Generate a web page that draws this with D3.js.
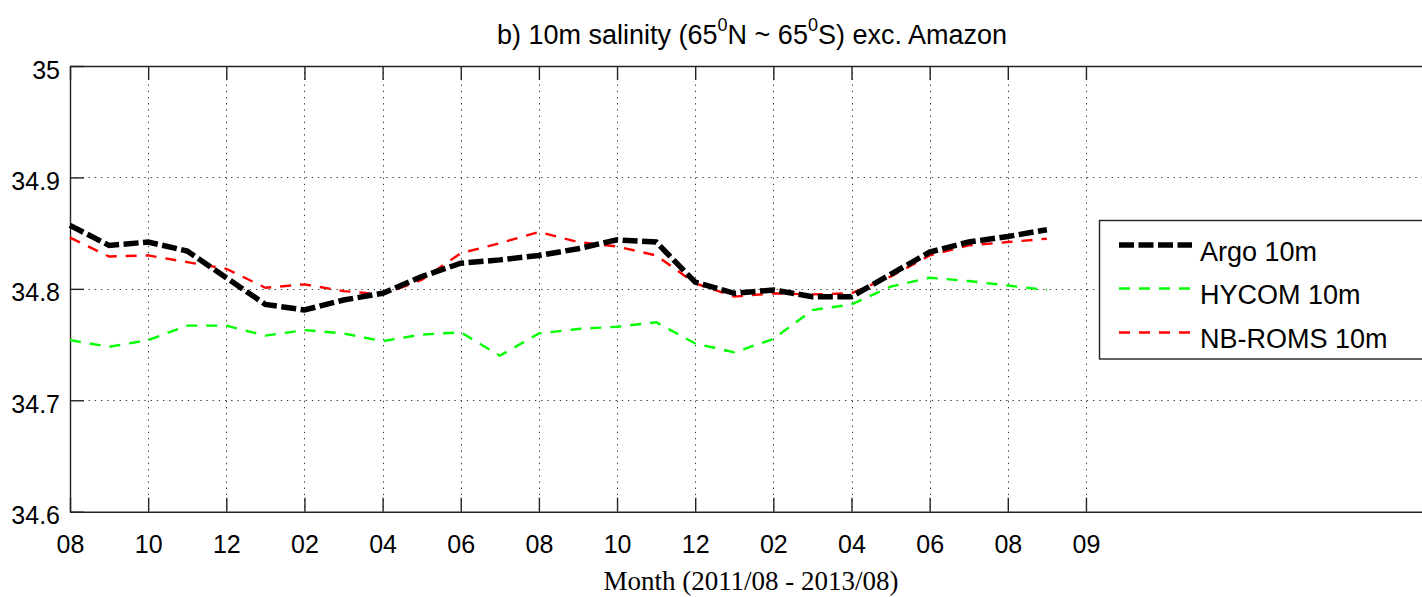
<!DOCTYPE html>
<html>
<head>
<meta charset="utf-8">
<script src="https://cdn.jsdelivr.net/npm/d3@7"></script>
<style>
  html, body { margin: 0; padding: 0; background: #fff; overflow: hidden; }
  svg { display: block; }
  text { font-family: "Liberation Sans", Arial, Helvetica, sans-serif; fill: #000; }
</style>
</head>
<body>
<svg id="chart" width="1422" height="597"></svg>
<script>
// ---- data (month index 0 = 2011/08) ----
const monthIndex = d3.range(26);
const argo   = [34.857, 34.839, 34.842, 34.834, 34.810, 34.786, 34.781, 34.790, 34.796,
                34.811, 34.823, 34.826, 34.830, 34.836, 34.844, 34.842, 34.806, 34.796,
                34.799, 34.793, 34.793, 34.813, 34.833, 34.842, 34.847, 34.853];
const hycom  = [34.754, 34.748, 34.754, 34.767, 34.767, 34.758, 34.763, 34.760, 34.753,
                34.759, 34.761, 34.740, 34.760, 34.764, 34.766, 34.770, 34.751, 34.743,
                34.755, 34.781, 34.786, 34.802, 34.810, 34.807, 34.803, 34.799];
const nbroms = [34.846, 34.829, 34.830, 34.824, 34.818, 34.801, 34.804, 34.798, 34.795,
                34.808, 34.832, 34.841, 34.851, 34.842, 34.838, 34.830, 34.805, 34.793,
                34.796, 34.795, 34.796, 34.811, 34.830, 34.839, 34.842, 34.845];
const xTickValues = [0, 2, 4, 6, 8, 10, 12, 14, 16, 18, 20, 22, 24, 26];
const xTickLabels = ["08","10","12","02","04","06","08","10","12","02","04","06","08","09"];
const yTickValues = [34.6, 34.7, 34.8, 34.9, 35];
const yTickLabels = ["34.6", "34.7", "34.8", "34.9", "35"];
const seriesNames = ["Argo 10m", "HYCOM 10m", "NB-ROMS 10m"];

// ---- layout ----
const L = 70, T = 66, B = 511.7, R = 1440;
const monthPx = 39.075;
const x = d3.scaleLinear().domain([0, (R - L) / monthPx]).range([L, R]);
const y = d3.scaleLinear().domain([34.6, 35]).range([B, T]);

const svg = d3.select("#chart");

// grid
const grid = svg.append("g").attr("stroke", "#333").attr("stroke-width", 1)
  .attr("stroke-dasharray", "1.3,4.9").attr("fill", "none");
xTickValues.forEach(v => {
  grid.append("line").attr("x1", Math.round(x(v)) + 0.5).attr("x2", Math.round(x(v)) + 0.5)
    .attr("y1", T).attr("y2", B);
});
yTickValues.forEach(v => {
  grid.append("line").attr("x1", L).attr("x2", R)
    .attr("y1", Math.round(y(v)) + 0.5).attr("y2", Math.round(y(v)) + 0.5);
});

// axes using d3 axis (inward ticks)
const xAxisB = d3.axisBottom(x).tickValues(xTickValues).tickSizeInner(-14).tickSizeOuter(0)
  .tickPadding(24).tickFormat((d, i) => xTickLabels[i]);
const gxb = svg.append("g").attr("transform", `translate(0,${B})`).call(xAxisB);
gxb.selectAll("text").attr("font-size", 25).attr("dy", "0.71em")
  .style("font-family", '"Liberation Sans", Arial, sans-serif');

const xAxisT = d3.axisTop(x).tickValues(xTickValues).tickSizeInner(-14).tickSizeOuter(0).tickFormat("");
svg.append("g").attr("transform", `translate(0,${T})`).call(xAxisT);

const yAxisL = d3.axisLeft(y).tickValues(yTickValues).tickSizeInner(-14).tickSizeOuter(0)
  .tickPadding(10).tickFormat((d, i) => yTickLabels[i]);
const gyl = svg.append("g").attr("transform", `translate(${L},0)`).call(yAxisL);
gyl.selectAll("text").attr("font-size", 25).attr("dy", "0.48em")
  .style("font-family", '"Liberation Sans", Arial, sans-serif');

svg.selectAll(".domain, .tick line").attr("stroke", "#222").attr("stroke-width", 1.4);

// series
const line = d3.line().x((d, i) => x(monthIndex[i])).y(d => y(d));
const styles = [
  {data: hycom,  color: "#00ff00", width: 2.4, dash: "11,9"},
  {data: nbroms, color: "#ff0000", width: 2.4, dash: "11,9"},
  {data: argo,   color: "#000000", width: 5.5, dash: "15,4.5"}
];
const plotG = svg.append("g");
styles.forEach(s => {
  plotG.append("path").datum(s.data).attr("d", line)
    .attr("fill", "none").attr("stroke", s.color).attr("stroke-width", s.width)
    .attr("stroke-dasharray", s.dash).attr("stroke-linejoin", "miter");
});

// legend
const lg = svg.append("g");
lg.append("rect").attr("x", 1099.5).attr("y", 220.5).attr("width", 340).attr("height", 138.5)
  .attr("fill", "#fff").attr("stroke", "#222").attr("stroke-width", 1.4);
const legendItems = [
  {name: seriesNames[0], s: styles[2], ly: 245},
  {name: seriesNames[1], s: styles[0], ly: 288.5},
  {name: seriesNames[2], s: styles[1], ly: 332.5}
];
legendItems.forEach(it => {
  lg.append("line").attr("x1", 1119).attr("x2", 1192).attr("y1", it.ly).attr("y2", it.ly)
    .attr("stroke", it.s.color).attr("stroke-width", it.s.width).attr("stroke-dasharray", it.s.dash);
  lg.append("text").attr("x", 1200).attr("y", it.ly + 15.5).attr("font-size", 27).text(it.name);
});

// title
const title = svg.append("text").attr("x", 752).attr("y", 44).attr("text-anchor", "middle")
  .attr("font-size", 27);
title.append("tspan").text("b) 10m salinity (65");
title.append("tspan").attr("dy", -13).attr("font-size", 18).text("0");
title.append("tspan").attr("dy", 13).text("N ~ 65");
title.append("tspan").attr("dy", -13).attr("font-size", 18).text("0");
title.append("tspan").attr("dy", 13).text("S) exc. Amazon");

// x label
svg.append("text").attr("x", 751).attr("y", 590).attr("text-anchor", "middle")
  .attr("font-size", 27).style("font-family", '"Liberation Serif", "Times New Roman", serif')
  .text("Month (2011/08 - 2013/08)");
</script>
</body>
</html>
